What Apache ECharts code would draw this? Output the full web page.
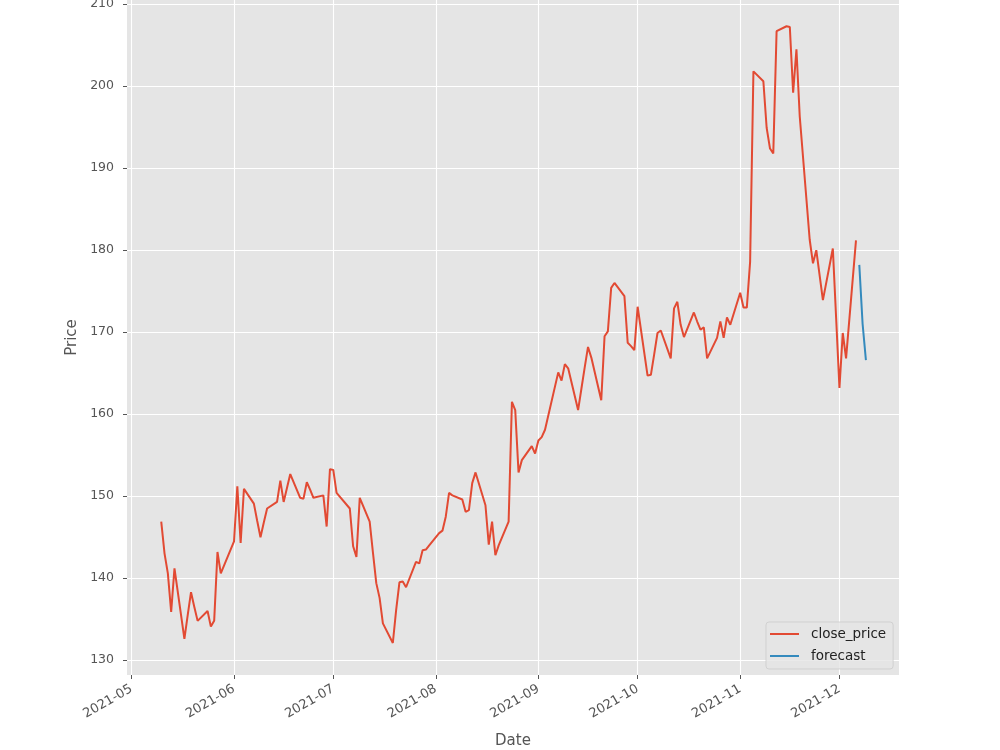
<!DOCTYPE html>
<html>
<head>
<meta charset="utf-8">
<script src="https://cdn.jsdelivr.net/npm/echarts@6/dist/echarts.min.js"></script>
<style>
html,body{margin:0;padding:0;background:#fff;}
#chart{width:1000px;height:750px;}
</style>
</head>
<body>
<div id="chart"></div>
<script>
const closeDates = [
'2021-05-10','2021-05-11','2021-05-12','2021-05-13','2021-05-14',
'2021-05-17','2021-05-18','2021-05-19','2021-05-20','2021-05-21',
'2021-05-24','2021-05-25','2021-05-26','2021-05-27','2021-05-28',
'2021-06-01','2021-06-02','2021-06-03','2021-06-04',
'2021-06-07','2021-06-08','2021-06-09','2021-06-10','2021-06-11',
'2021-06-14','2021-06-15','2021-06-16','2021-06-17','2021-06-18',
'2021-06-21','2021-06-22','2021-06-23','2021-06-24','2021-06-25',
'2021-06-28','2021-06-29','2021-06-30',
'2021-07-01','2021-07-02',
'2021-07-06','2021-07-07','2021-07-08','2021-07-09',
'2021-07-12','2021-07-13','2021-07-14','2021-07-15','2021-07-16',
'2021-07-19','2021-07-20','2021-07-21','2021-07-22','2021-07-23',
'2021-07-26','2021-07-27','2021-07-28','2021-07-29','2021-07-30',
'2021-08-02','2021-08-03','2021-08-04','2021-08-05','2021-08-06',
'2021-08-09','2021-08-10','2021-08-11','2021-08-12','2021-08-13',
'2021-08-16','2021-08-17','2021-08-18','2021-08-19','2021-08-20',
'2021-08-23','2021-08-24','2021-08-25','2021-08-26','2021-08-27',
'2021-08-30','2021-08-31',
'2021-09-01','2021-09-02','2021-09-03',
'2021-09-07','2021-09-08','2021-09-09','2021-09-10',
'2021-09-13','2021-09-14','2021-09-15','2021-09-16','2021-09-17',
'2021-09-20','2021-09-21','2021-09-22','2021-09-23','2021-09-24',
'2021-09-27','2021-09-28','2021-09-29','2021-09-30',
'2021-10-01',
'2021-10-04','2021-10-05','2021-10-06','2021-10-07','2021-10-08',
'2021-10-11','2021-10-12','2021-10-13','2021-10-14','2021-10-15',
'2021-10-18','2021-10-19','2021-10-20','2021-10-21','2021-10-22',
'2021-10-25','2021-10-26','2021-10-27','2021-10-28','2021-10-29',
'2021-11-01','2021-11-02','2021-11-03','2021-11-04','2021-11-05',
'2021-11-08','2021-11-09','2021-11-10','2021-11-11','2021-11-12',
'2021-11-15','2021-11-16','2021-11-17','2021-11-18','2021-11-19',
'2021-11-22','2021-11-23','2021-11-24','2021-11-26',
'2021-11-29','2021-11-30',
'2021-12-01','2021-12-02','2021-12-03',
'2021-12-06'
];
const closePrice = [
146.9,143.0,140.6,135.9,141.2,
132.6,135.5,138.3,136.5,134.8,
136.0,134.1,134.8,143.2,140.6,
144.5,151.2,144.3,150.9,
149.1,147.0,145.0,146.8,148.5,
149.3,151.9,149.3,151.0,152.7,
149.8,149.7,151.7,150.8,149.8,
150.1,146.3,153.3,
153.2,150.4,
148.5,143.9,142.6,149.8,
146.9,143.1,139.4,137.6,134.5,
132.1,136.1,139.5,139.6,138.9,
142.0,141.8,143.4,143.5,144.0,
145.5,145.8,147.5,150.4,150.1,
149.6,148.1,148.3,151.6,152.9,
148.9,144.1,146.9,142.8,144.0,
146.9,161.5,160.5,152.9,154.4,
156.1,155.2,
156.8,157.2,158.1,
165.1,164.1,166.1,165.6,
160.5,163.1,165.7,168.2,166.9,
161.7,169.5,170.1,175.4,176.0,
174.4,168.7,168.3,167.8,
173.1,
164.7,164.8,167.3,169.9,170.2,
166.8,172.9,173.7,170.9,169.4,
172.4,171.3,170.3,170.6,166.8,
169.3,171.3,169.3,171.8,170.9,
174.8,173.0,173.0,178.6,201.8,
200.6,194.9,192.4,191.8,206.7,
207.3,207.2,199.2,204.5,196.3,
181.3,178.4,180.0,173.9,
180.2,171.7,
163.2,169.9,166.8,
181.2
];
const forecastDates = ['2021-12-07','2021-12-08','2021-12-09'];
const forecastPrice = [178.2,171.0,166.6];
const xTickDates = ['2021-05-01','2021-06-01','2021-07-01','2021-08-01','2021-09-01','2021-10-01','2021-11-01','2021-12-01'];
const xTickLabels = ['2021-05','2021-06','2021-07','2021-08','2021-09','2021-10','2021-11','2021-12'];
const yTicks = [130,140,150,160,170,180,190,200,210];

function parseDay(s){const p=s.split('-').map(Number);return Date.UTC(p[0],p[1]-1,p[2]);}
const DAY = 86400000;
const closeData = closeDates.map((d,i)=>[parseDay(d), closePrice[i]]);
const forecastData = forecastDates.map((d,i)=>[parseDay(d), forecastPrice[i]]);
const xTickValues = xTickDates.map(parseDay);
const xMin = parseDay('2021-05-01') - 1.35*DAY;
const xMax = parseDay('2021-05-01') + 232.0*DAY;

const FONT = 'DejaVu Sans';
const chart = echarts.init(document.getElementById('chart'), null, {renderer:'canvas'});
chart.setOption({
  animation:false,
  backgroundColor:'#ffffff',
  textStyle:{fontFamily:FONT},
  grid:{left:127,right:101,top:0,bottom:75,show:true,backgroundColor:'#E5E5E5',borderWidth:0,
    containLabel:false,outerBoundsMode:'none'},
  legend:{
    orient:'vertical', left:766, top:622,
    padding:[4,7,5,4], itemGap:6,
    itemWidth:29, itemHeight:2,
    backgroundColor:'rgba(229,229,229,0.8)', borderColor:'rgba(204,204,204,0.8)', borderWidth:1, borderRadius:3,
    textStyle:{fontFamily:FONT,fontSize:13.5,color:'#222',lineHeight:16,padding:[0,0,0,7]},
    data:[{name:'close_price',icon:'rect'},{name:'forecast',icon:'rect'}]
  },
  xAxis:{
    type:'value', min:xMin, max:xMax,
    name:'Date', nameLocation:'middle', nameGap:59,
    nameTextStyle:{fontFamily:FONT,fontSize:15,color:'#555'},
    axisLine:{show:false},
    axisTick:{show:true,length:4,inside:false,lineStyle:{color:'#555',width:1},customValues:xTickValues},
    axisLabel:{rotate:30,margin:13,fontFamily:FONT,fontSize:13,color:'#555',customValues:xTickValues,hideOverlap:false,
      formatter:function(v){const i=xTickValues.indexOf(v);return i>=0?xTickLabels[i]:'';}},
    splitLine:{show:true,lineStyle:{color:'#ffffff',width:1.1}}
  },
  yAxis:{
    type:'value', min:128.2, max:210.5, splitNumber:8,
    name:'Price', nameLocation:'middle', nameGap:47, nameRotate:90,
    nameTextStyle:{fontFamily:FONT,fontSize:15,color:'#555'},
    axisLine:{show:false},
    axisTick:{show:true,length:4,inside:false,lineStyle:{color:'#555',width:1},customValues:yTicks},
    axisLabel:{margin:13,fontFamily:FONT,fontSize:12.5,color:'#555',customValues:yTicks},
    splitLine:{show:true,lineStyle:{color:'#ffffff',width:1.1}}
  },
  series:[
    {name:'close_price',type:'line',data:closeData,showSymbol:false,symbol:'none',
      lineStyle:{color:'#E24A33',width:2},itemStyle:{color:'#E24A33'}},
    {name:'forecast',type:'line',data:forecastData,showSymbol:false,symbol:'none',
      lineStyle:{color:'#348ABD',width:2},itemStyle:{color:'#348ABD'}}
  ]
});
</script>
</body>
</html>
